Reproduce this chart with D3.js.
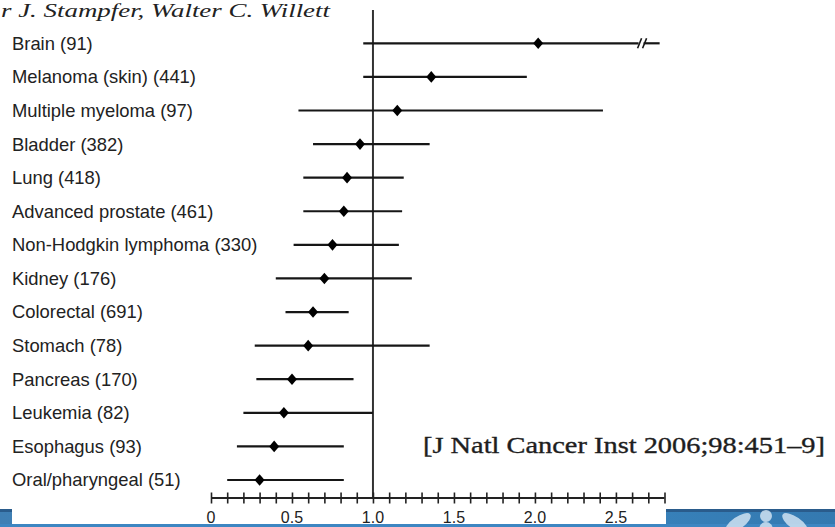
<!DOCTYPE html>
<html>
<head>
<meta charset="utf-8">
<script src="https://cdn.jsdelivr.net/npm/d3@7"></script>
<style>
  html, body { margin: 0; padding: 0; background: #fff; }
  svg { display: block; }
</style>
</head>
<body>
<svg id="chart" width="835" height="527"></svg>
<script>
// cancer sites (number of cases), top to bottom
const sites = [
  'Brain (91)', 'Melanoma (skin) (441)', 'Multiple myeloma (97)', 'Bladder (382)',
  'Lung (418)', 'Advanced prostate (461)', 'Non-Hodgkin lymphoma (330)', 'Kidney (176)',
  'Colorectal (691)', 'Stomach (78)', 'Pancreas (170)', 'Leukemia (82)',
  'Esophagus (93)', 'Oral/pharyngeal (51)'
];
// relative risk point estimates and 95% CI bounds
const rr    = [2.02, 1.36, 1.15, 0.92, 0.84, 0.82, 0.75, 0.70, 0.63, 0.60, 0.50, 0.45, 0.39, 0.30];
const ciLow = [0.94, 0.94, 0.54, 0.63, 0.57, 0.57, 0.51, 0.40, 0.46, 0.27, 0.28, 0.20, 0.16, 0.10];
// null = upper bound runs off the axis (drawn with a break mark)
const ciHigh = [null, 1.95, 2.42, 1.35, 1.19, 1.18, 1.16, 1.24, 0.85, 1.35, 0.88, 1.00, 0.82, 0.82];

const tickLabels = ['0', '0.5', '1.0', '1.5', '2.0', '2.5'];
const labelValues = [0, 0.5, 1.0, 1.5, 2.0, 2.5];
const minorTicks = d3.range(0, 28.5).map(i => i / 10);

const svg = d3.select('#chart');
const W = 835, H = 527;

const x = d3.scaleLinear().domain([0, 2.8]).range([211, 664.5]);
const y = d3.scalePoint().domain(sites).range([43.3, 480]);
const AXIS_Y = 498;
const BREAK_AT = 2.64, STUB_END = 2.77;

// header fragment (author line of the slide)
svg.append('text')
  .attr('x', 1).attr('y', 17)
  .attr('font-family', 'Liberation Serif, Times New Roman, serif')
  .attr('font-style', 'italic')
  .attr('font-size', 18)
  .attr('fill', '#222')
  .attr('textLength', 329).attr('lengthAdjust', 'spacingAndGlyphs')
  .text('r J. Stampfer, Walter C. Willett');

// site labels
svg.append('g').selectAll('text').data(sites).join('text')
  .attr('x', 12).attr('y', d => y(d)).attr('dy', '0.35em')
  .attr('font-family', 'Liberation Sans, Arial, sans-serif')
  .attr('font-size', 18.4)
  .attr('fill', '#222')
  .text(d => d);

// reference line at RR = 1
svg.append('line')
  .attr('x1', x(1)).attr('x2', x(1))
  .attr('y1', 10).attr('y2', AXIS_Y)
  .attr('stroke', '#333').attr('stroke-width', 2);

const rows = sites.map((s, i) => ({ site: s, rr: rr[i], lo: ciLow[i], hi: ciHigh[i] }));

const g = svg.append('g');
// CI lines
g.selectAll('line.ci').data(rows).join('line')
  .attr('class', 'ci')
  .attr('x1', d => x(d.lo))
  .attr('x2', d => x(d.hi === null ? BREAK_AT : d.hi))
  .attr('y1', d => y(d.site)).attr('y2', d => y(d.site))
  .attr('stroke', '#161616').attr('stroke-width', 2.2);

// break mark for off-scale upper bound
const broken = rows.filter(d => d.hi === null);
broken.forEach(d => {
  const yy = y(d.site);
  const x0 = x(BREAK_AT);
  g.append('line')
    .attr('x1', x0 + 5).attr('x2', x(STUB_END))
    .attr('y1', yy).attr('y2', yy)
    .attr('stroke', '#161616').attr('stroke-width', 2.2);
  [0, 5].forEach(off => {
    g.append('line')
      .attr('x1', x0 - 1 + off).attr('y1', yy + 5)
      .attr('x2', x0 + 3 + off).attr('y2', yy - 5)
      .attr('stroke', '#161616').attr('stroke-width', 1.6);
  });
});

// point estimates (diamonds)
g.selectAll('path.pt').data(rows).join('path')
  .attr('class', 'pt')
  .attr('d', 'M0,-5.8 L5,0 L0,5.8 L-5,0 Z')
  .attr('transform', d => `translate(${x(d.rr)},${y(d.site)})`)
  .attr('fill', '#000');

// x axis with crossing minor ticks
const axis = d3.axisBottom(x).tickValues(minorTicks).tickSize(11).tickFormat('');
const ax = svg.append('g').attr('transform', `translate(0,${AXIS_Y})`).call(axis);
ax.select('.domain').attr('stroke', '#222').attr('stroke-width', 2).attr('d', `M${x(0)},0H${x(2.8)}`);
ax.selectAll('.tick line').attr('y1', -5.5).attr('y2', 5.5).attr('stroke', '#222').attr('stroke-width', 1.6);

// slide footer band
const defs = svg.append('defs');
const grad = defs.append('linearGradient').attr('id', 'band').attr('x1', 0).attr('x2', 1).attr('y1', 0).attr('y2', 0);
grad.append('stop').attr('offset', '0%').attr('stop-color', '#3f7fb4');
grad.append('stop').attr('offset', '50%').attr('stop-color', '#3b8ac6');
grad.append('stop').attr('offset', '100%').attr('stop-color', '#3479b0');

svg.append('rect').attr('x', 0).attr('y', 509).attr('width', W).attr('height', H - 509).attr('fill', 'url(#band)');
svg.append('rect').attr('x', 0).attr('y', 509).attr('width', W).attr('height', 3).attr('fill', '#2a5c8c');
// white patch behind the tick labels
svg.append('rect').attr('x', 12).attr('y', 505).attr('width', 654).attr('height', 19).attr('fill', '#fff');
svg.append('rect').attr('x', 0).attr('y', 524).attr('width', W).attr('height', H - 524).attr('fill', '#3d86c2');

// logo shapes
const logo = svg.append('g').attr('fill', '#cfe2f2').attr('opacity', 0.85);
logo.append('ellipse').attr('cx', 738).attr('cy', 523).attr('rx', 15).attr('ry', 6).attr('transform', 'rotate(-35,738,523)');
logo.append('ellipse').attr('cx', 795).attr('cy', 523).attr('rx', 15).attr('ry', 6).attr('transform', 'rotate(35,795,523)');
logo.append('circle').attr('cx', 766).attr('cy', 516).attr('r', 6);
logo.append('ellipse').attr('cx', 766).attr('cy', 530).attr('rx', 7).attr('ry', 8);

// tick labels
svg.append('g').selectAll('text').data(labelValues).join('text')
  .attr('x', d => x(d)).attr('y', 522.5)
  .attr('text-anchor', 'middle')
  .attr('font-family', 'Liberation Sans, Arial, sans-serif')
  .attr('font-size', 16)
  .attr('fill', '#222')
  .text((d, i) => tickLabels[i]);

// citation
svg.append('text')
  .attr('x', 423).attr('y', 453)
  .attr('font-family', 'Liberation Serif, Times New Roman, serif')
  .attr('font-size', 23)
  .attr('fill', '#1e1e1e')
  .attr('stroke', '#1e1e1e').attr('stroke-width', 0.35)
  .attr('textLength', 402).attr('lengthAdjust', 'spacingAndGlyphs')
  .text('[J Natl Cancer Inst 2006;98:451–9]');
</script>
</body>
</html>
